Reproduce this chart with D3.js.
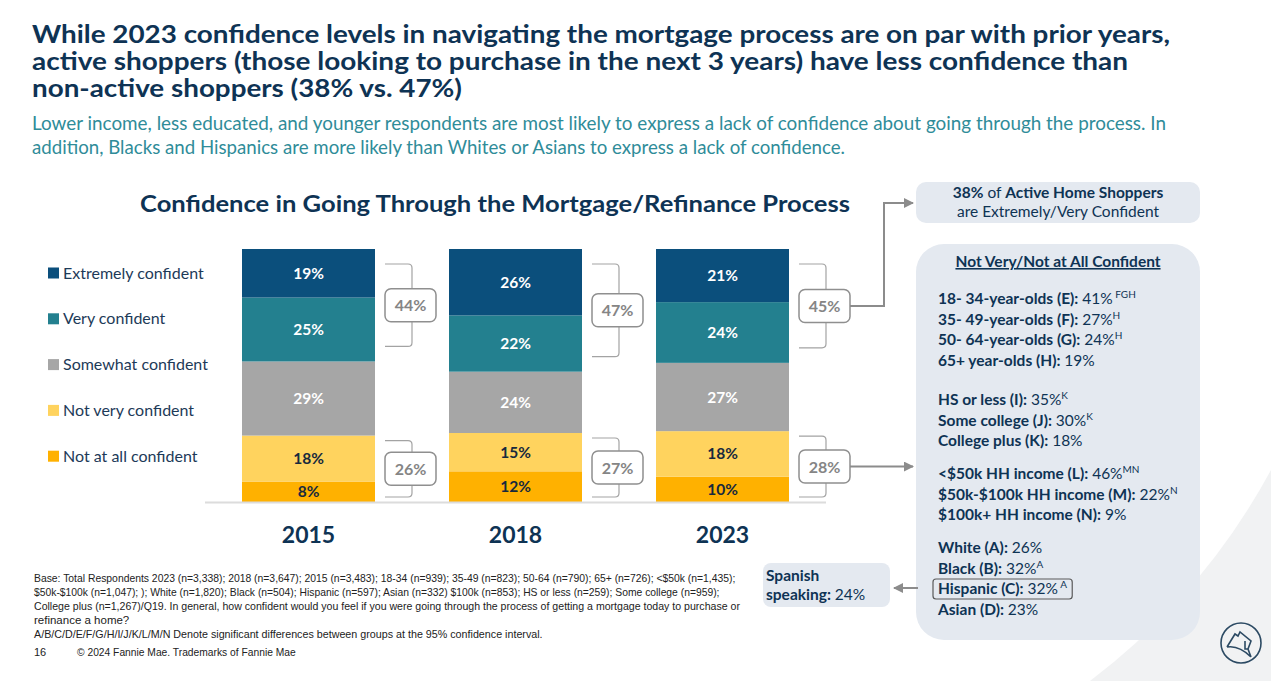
<!DOCTYPE html>
<html>
<head>
<meta charset="utf-8">
<script src="https://cdn.jsdelivr.net/npm/d3@7"></script>
<style>
  html, body { margin: 0; padding: 0; background: #fff; }
  svg { display: block; font-family: Lato, "Noto Sans", sans-serif; }
</style>
</head>
<body>
<svg id="chart" width="1271" height="681"></svg>
<script>
// ---- data ----
var years = ["2015", "2018", "2023"];
var levels = ["Extremely confident", "Very confident", "Somewhat confident", "Not very confident", "Not at all confident"];
var extremely = [19, 26, 21];
var very = [25, 22, 24];
var somewhat = [29, 24, 27];
var notVery = [18, 15, 18];
var notAtAll = [8, 12, 10];
var topTwo = [44, 47, 45];
var bottomTwo = [26, 27, 28];
var colors = ["#0b4f7c", "#23808f", "#a6a6a6", "#ffd35e", "#ffb100"];
var labelInk = ["#fff", "#fff", "#fff", "#17293d", "#17293d"];

var titleLines = [
  "While 2023 confidence levels in navigating the mortgage process are on par with prior years,",
  "active shoppers (those looking to purchase in the next 3 years) have less confidence than",
  "non-active shoppers (38% vs. 47%)"
];
var subLines = [
  "Lower income, less educated,  and younger respondents are most likely to express a lack of confidence about going through the process. In",
  "addition, Blacks and Hispanics are more likely than Whites or Asians to express a lack of confidence."
];
var ageRows = [["18- 34-year-olds (E):", " 41%", " FGH"], ["35- 49-year-olds (F):", " 27%", "H"], ["50- 64-year-olds (G):", " 24%", "H"], ["65+ year-olds (H):", " 19%", ""]];
var eduRows = [["HS or less (I):", " 35%", "K"], ["Some college (J):", " 30%", "K"], ["College plus (K):", " 18%", ""]];
var incomeRows = [["<$50k HH income (L):", " 46%", "MN"], ["$50k-$100k HH income (M):", " 22%", "N"], ["$100k+ HH income (N):", " 9%", ""]];
var raceRows = [["White (A):", " 26%", ""], ["Black (B):", " 32%", "A"], ["Hispanic (C):", " 32%", " A"], ["Asian (D):", " 23%", ""]];
var footLines = [
  "Base:  Total Respondents 2023 (n=3,338); 2018 (n=3,647);  2015 (n=3,483); 18-34 (n=939); 35-49 (n=823); 50-64 (n=790); 65+ (n=726); <$50k (n=1,435);",
  "$50k-$100k (n=1,047); ); White (n=1,820); Black (n=504); Hispanic (n=597); Asian (n=332) $100k (n=853); HS or less (n=259); Some college (n=959);",
  "College plus (n=1,267)/Q19. In general, how confident would you feel if you were going through the process of getting a mortgage today to purchase or",
  "refinance a home?",
  "A/B/C/D/E/F/G/H/I/J/K/L/M/N Denote significant differences between groups at  the 95% confidence interval."
];

var navy = "#0e3354";
var svg = d3.select("#chart");

// squeeze a line to a width with textLength
function fit(sel, w) {
  sel.each(function() {
    var len = this.getComputedTextLength();
    if (Math.abs(len - w) > 2) d3.select(this).attr("textLength", w).attr("lengthAdjust", "spacingAndGlyphs");
  });
}
// or shrink the font size until the line has that width
function fitSize(sel, w) {
  sel.each(function() {
    var s = +d3.select(this).attr("font-size");
    var len = this.getComputedTextLength();
    d3.select(this).attr("font-size", (s * w / len).toFixed(2));
  });
}

// background swoosh + logo
svg.append("path")
  .attr("d", "M1090,681 A657,657 0 0 0 1271,470 L1271,681 Z")
  .attr("fill", "#f1f2f3");
var logo = svg.append("g").attr("transform", "translate(1241,643)")
  .attr("fill", "none").attr("stroke", "#2c4a63").attr("stroke-width", 1.6);
logo.append("circle").attr("r", 20);
logo.append("path").attr("d", "M-14,4 L-6,-9 L-3,-7 L-1,-11 L10,-2 L7,6 L10,14 M-14,4 Q-2,2 10,14 M4,-2 L4,6 L7,6");

// headline: one text block, one tspan per line
var titleW = [1138, 1096, 430];
var title = svg.append("text").attr("font-size", 24.5).attr("font-weight", 700).attr("fill", navy);
titleLines.forEach(function(t, i) {
  title.append("tspan").attr("x", 32).attr("y", 43 + i * 27.2).text(t).call(fit, titleW[i]);
});
var subW = [1134, 813];
var sub = svg.append("text").attr("font-size", 19).attr("fill", "#2f8c99");
subLines.forEach(function(t, i) {
  sub.append("tspan").attr("x", 32).attr("y", 130 + i * 24).text(t).call(fit, subW[i]);
});

svg.append("text").attr("x", 495).attr("y", 212).attr("text-anchor", "middle")
  .attr("font-size", 23).attr("font-weight", 700).attr("fill", navy)
  .text("Confidence in Going Through the Mortgage/Refinance Process").call(fit, 710);

// ---- stacked bars ----
var rows = years.map(function(y, i) {
  return { year: y, e: extremely[i], v: very[i], s: somewhat[i], nv: notVery[i], na: notAtAll[i] };
});
var keys = ["na", "nv", "s", "v", "e"]; // bottom to top
var stack = d3.stack().keys(keys).offset(d3.stackOffsetExpand)(rows);

var x = d3.scaleBand().domain(years).range([205, 826]).paddingInner(74 / 207).paddingOuter(37 / 207);
var y = d3.scaleLinear().domain([0, 1]).range([502, 249]);

stack.forEach(function(layer, li) {
  var lvl = 4 - li;
  var g = svg.append("g");
  g.selectAll("rect").data(layer).join("rect")
    .attr("x", function(d) { return x(d.data.year); })
    .attr("width", x.bandwidth())
    .attr("y", function(d) { return y(d[1]); })
    .attr("height", function(d) { return y(d[0]) - y(d[1]); })
    .attr("fill", colors[lvl]);
  g.selectAll("text").data(layer).join("text")
    .attr("x", function(d) { return x(d.data.year) + x.bandwidth() / 2; })
    .attr("y", function(d) { return (y(d[0]) + y(d[1])) / 2 + 5.5; })
    .attr("text-anchor", "middle").attr("font-size", 15.5).attr("font-weight", 700)
    .attr("fill", labelInk[lvl])
    .text(function(d) { return d.data[layer.key] + "%"; });
});

svg.append("line").attr("x1", 205).attr("x2", 826).attr("y1", 502.5).attr("y2", 502.5)
  .attr("stroke", "#dcdcdc").attr("stroke-width", 2);

svg.append("g").selectAll("text").data(years).join("text")
  .attr("x", function(d) { return x(d) + x.bandwidth() / 2; })
  .attr("y", 543).attr("text-anchor", "middle")
  .attr("font-size", 23).attr("font-weight", 700).attr("fill", navy)
  .text(function(d) { return d; });

// legend
var leg = svg.append("g").selectAll("g").data(levels).join("g")
  .attr("transform", function(d, i) { return "translate(48," + (273 + i * 45.8) + ")"; });
leg.append("rect").attr("x", 0).attr("y", -5.5).attr("width", 11).attr("height", 11)
  .attr("fill", function(d, i) { return colors[i]; });
leg.append("text").attr("x", 15).attr("y", 5.5).attr("font-size", 16).attr("fill", "#1d3a58")
  .text(function(d) { return d; });

// brackets with totals
svg.append("defs").append("marker").attr("id", "arr").attr("viewBox", "0 0 10 10")
  .attr("refX", 9).attr("refY", 5).attr("markerWidth", 5).attr("markerHeight", 5)
  .attr("orient", "auto-start-reverse")
  .append("path").attr("d", "M0,0 L10,5 L0,10 Z").attr("fill", "#8c8c8c");

var boxMid = {};
function bracket(i, y0, y1, inset, val, tag) {
  var right = x(years[i]) + x.bandwidth();
  var bx = right + 10, vx = right + 37;
  var t = y0 + inset, b = y1 - inset, mid = (t + b) / 2;
  svg.append("path")
    .attr("d", "M" + bx + "," + t + " L" + (vx - 4) + "," + t + " Q" + vx + "," + t + " " + vx + "," + (t + 4) +
      " L" + vx + "," + (b - 4) + " Q" + vx + "," + b + " " + (vx - 4) + "," + b + " L" + bx + "," + b)
    .attr("fill", "none").attr("stroke", "#a3a3a3").attr("stroke-width", 1.2);
  svg.append("rect").attr("x", bx).attr("y", mid - 16.5).attr("width", 51).attr("height", 33)
    .attr("rx", 6).attr("fill", "#fff").attr("stroke", "#8f8f8f").attr("stroke-width", 1.5);
  svg.append("text").attr("x", bx + 25.5).attr("y", mid + 6).attr("text-anchor", "middle")
    .attr("font-size", 16).attr("font-weight", 700).attr("fill", "#858585").text(val + "%");
  boxMid[tag + i] = { x: bx + 51, y: mid };
}
years.forEach(function(yr, i) {
  var top = stack[4][i], lowTop = stack[1][i];
  bracket(i, y(top[1]), y(stack[3][i][0]), 15, topTwo[i], "t");
  bracket(i, y(lowTop[1]), y(0), 5, bottomTwo[i], "b");
});

var c1 = boxMid.t2, c2 = boxMid.b2;
svg.append("path").attr("d", "M" + c1.x + "," + c1.y + " L884," + c1.y + " L884,203 L913,203")
  .attr("fill", "none").attr("stroke", "#8c8c8c").attr("stroke-width", 2).attr("marker-end", "url(#arr)");
svg.append("path").attr("d", "M" + c2.x + "," + c2.y + " L913," + c2.y)
  .attr("fill", "none").attr("stroke", "#8c8c8c").attr("stroke-width", 2).attr("marker-end", "url(#arr)");

// right panel
var panelFill = "#e4e9f0";
svg.append("rect").attr("x", 916).attr("y", 182).attr("width", 284).attr("height", 41).attr("rx", 10).attr("fill", panelFill);
var t1 = svg.append("text").attr("x", 1058).attr("y", 198).attr("text-anchor", "middle").attr("font-size", 15.5).attr("fill", navy);
t1.append("tspan").attr("font-weight", 700).text("38%");
t1.append("tspan").text(" of ");
t1.append("tspan").attr("font-weight", 700).text("Active Home Shoppers");
svg.append("text").attr("x", 1058).attr("y", 217).attr("text-anchor", "middle").attr("font-size", 15.5).attr("fill", navy)
  .text("are Extremely/Very Confident");

svg.append("rect").attr("x", 916).attr("y", 244).attr("width", 284).attr("height", 396).attr("rx", 28).attr("fill", panelFill);
svg.append("text").attr("x", 1058).attr("y", 267).attr("text-anchor", "middle").attr("font-size", 15.5)
  .attr("font-weight", 700).attr("fill", navy).attr("text-decoration", "underline")
  .text("Not Very/Not at All Confident");

function rowBlock(list, y0) {
  list.forEach(function(r, i) {
    var t = svg.append("text").attr("x", 938).attr("y", y0 + i * 20.5).attr("font-size", 15.5).attr("fill", navy);
    t.append("tspan").attr("font-weight", 700).text(r[0]);
    t.append("tspan").text(r[1]);
    if (r[2]) t.append("tspan").attr("font-size", 10).attr("dy", -6).text(r[2]);
    if (r[0] === "Hispanic (C):") {
      var bb = t.node().getBBox();
      svg.append("rect").attr("x", bb.x - 5).attr("y", y0 + i * 20.5 - 15).attr("width", bb.width + 10).attr("height", 20)
        .attr("rx", 3).attr("fill", "none").attr("stroke", "#5a5a5a").attr("stroke-width", 1.2);
    }
  });
}
rowBlock(ageRows, 304);
rowBlock(eduRows, 405);
rowBlock(incomeRows, 479);
rowBlock(raceRows, 553);

// spanish speaking callout
svg.append("rect").attr("x", 763).attr("y", 563).attr("width", 127).attr("height", 44).attr("rx", 8).attr("fill", panelFill);
svg.append("text").attr("x", 766).attr("y", 581).attr("font-size", 15.5).attr("font-weight", 700).attr("fill", navy).text("Spanish");
var sp = svg.append("text").attr("x", 766).attr("y", 600).attr("font-size", 15.5).attr("fill", navy);
sp.append("tspan").attr("font-weight", 700).text("speaking:");
sp.append("tspan").text(" 24%");
svg.append("path").attr("d", "M918,588 L894,588").attr("stroke", "#8c8c8c").attr("stroke-width", 2)
  .attr("marker-end", "url(#arr)");

// footnote (condensed face in the original; size each long line to its width)
var footW = [702, 686, 706, null, 509];
footLines.forEach(function(t, i) {
  var ft = svg.append("text").attr("x", 34).attr("y", 582 + i * 14).attr("font-size", 11.5)
    .attr("font-family", "'Liberation Sans Narrow', 'Arial Narrow', sans-serif").attr("fill", "#222")
    .text(t);
  if (footW[i]) ft.call(fitSize, footW[i]);
});
svg.append("text").attr("x", 34).attr("y", 656).attr("font-size", 11).attr("fill", "#222")
  .attr("font-family", "'Liberation Sans Narrow', sans-serif").text("16");
svg.append("text").attr("x", 77).attr("y", 656).attr("font-size", 11).attr("fill", "#222")
  .attr("font-family", "'Liberation Sans Narrow', sans-serif").text("© 2024 Fannie Mae. Trademarks of Fannie Mae").call(fitSize, 219);
</script>
</body>
</html>
